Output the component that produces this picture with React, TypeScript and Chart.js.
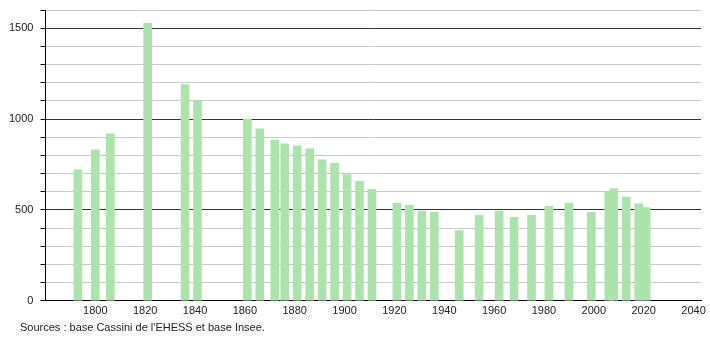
import React, { useEffect, useRef } from "react";
import { Chart, registerables } from "chart.js";

Chart.register(...registerables);

const years = [1793, 1800, 1806, 1821, 1836, 1841, 1861, 1866, 1872, 1876, 1881, 1886, 1891, 1896, 1901, 1906, 1911, 1921, 1926, 1931, 1936, 1946, 1954, 1962, 1968, 1975, 1982, 1990, 1999, 2006, 2008, 2013, 2018, 2021];
const population = [720, 830, 918, 1526, 1190, 1097, 1000, 946, 884, 863, 852, 836, 775, 756, 695, 658, 614, 537, 525, 494, 487, 387, 470, 494, 459, 470, 520, 537, 487, 600, 617, 570, 533, 513];
const xTickValues = [1800, 1820, 1840, 1860, 1880, 1900, 1920, 1940, 1960, 1980, 2000, 2020, 2040];
const sourceText = "Sources : base Cassini de l'EHESS et base Insee.";

const FONT = "'Liberation Sans', Arial, sans-serif";

export default function App() {
  const ref = useRef<HTMLCanvasElement | null>(null);

  useEffect(() => {
    if (!ref.current) return;
    const chart = new Chart(ref.current, {
      type: "bar",
      data: {
        datasets: [
          {
            data: years.map((y, i) => ({ x: y, y: population[i] })),
            backgroundColor: "#ace3ac",
            borderWidth: 0,
            barThickness: 8,
          },
        ],
      },
      options: {
        animation: false,
        responsive: false,
        maintainAspectRatio: false,
        layout: { padding: { left: 2, right: 9, top: 10, bottom: 18 } },
        plugins: { legend: { display: false }, tooltip: { enabled: false } },
        scales: {
          x: {
            type: "linear",
            offset: false,
            min: 1780,
            max: 2043,
            afterBuildTicks: (scale: any) => {
              scale.ticks = xTickValues.map((v) => ({ value: v }));
            },
            ticks: {
              autoSkip: false,
              maxRotation: 0,
              padding: 4,
              color: "#222",
              font: { family: FONT, size: 11 },
              callback: (v: any) => String(v),
            },
            grid: { display: false, drawTicks: false, offset: false },
            border: { display: true, color: "#000", width: 1 },
          },
          y: {
            min: 0,
            max: 1600,
            afterFit: (scale: any) => {
              scale.paddingTop = 0;
              scale.paddingBottom = 0;
            },
            ticks: {
              stepSize: 100,
              padding: 7,
              color: "#222",
              font: { family: FONT, size: 11 },
              callback: (v: any) => (Number(v) % 500 === 0 ? String(v) : ""),
            },
            grid: {
              color: (ctx: any) =>
                ctx.tick && ctx.tick.value % 500 === 0 ? "#333" : "#c8c8c8",
              tickColor: "#000",
              tickLength: 5,
              lineWidth: 1,
            },
            border: { display: true, color: "#000", width: 1 },
          },
        },
      },
    });
    return () => chart.destroy();
  }, []);

  return (
    <div style={{ position: "fixed", left: 0, top: 0, width: 710, height: 340, background: "#fff" }}>
      <canvas ref={ref} width={710} height={340} style={{ display: "block" }} />
      <div
        style={{
          position: "absolute",
          left: 20,
          top: 321,
          fontFamily: FONT,
          fontSize: 11,
          color: "#222",
          whiteSpace: "nowrap",
        }}
      >
        {sourceText}
      </div>
    </div>
  );
}
